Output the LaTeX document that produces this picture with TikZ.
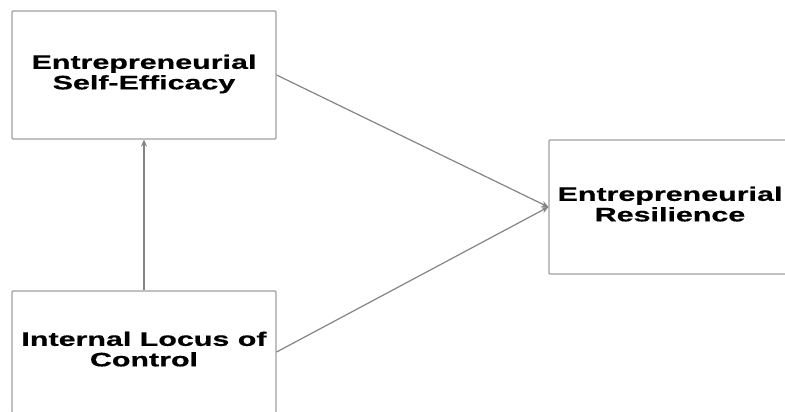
\documentclass[tikz,border=0pt]{standalone}
\usepackage{fontspec}
\setmainfont{Liberation Sans}
\newfontfamily\lblfont{Liberation Sans Bold}[FakeBold=0.5]
\usepackage{graphicx}
\usetikzlibrary{arrows.meta}
\definecolor{boxgray}{HTML}{A0A0A0}
\definecolor{arrgray}{HTML}{858585}
\newcommand{\lbl}[2]{\scalebox{1.56}[1]{\fontsize{19.5}{20.5}\lblfont\begin{tabular}{@{}c@{}}#1\\#2\end{tabular}}}
\begin{document}
\begin{tikzpicture}[x=1pt,y=-1pt,
  box/.style={draw=boxgray, line width=1.2pt, rectangle, rounded corners=1pt, inner sep=0pt, fill=white},
  conn/.style={draw=arrgray, line width=1.2pt, -{Stealth[length=7pt,width=6pt]}}]
\useasboundingbox[fill=white] (0,0) rectangle (785,412);
\node[box, minimum width=264pt, minimum height=128pt] (ese) at (144,75) {\lbl{Entrepreneurial}{Self-Efficacy}};
\node[box, minimum width=264pt, minimum height=122pt] (ilc) at (144,352) {\lbl{Internal Locus of}{Control}};
\node[box, minimum width=242pt, minimum height=134pt] (er) at (670,207) {\lbl{Entrepreneurial}{Resilience}};
\draw[conn] (ilc.north) -- (ese.south);
\draw[conn] (ese.east) -- (er.west);
\draw[conn] (ilc.east) -- (er.west);
\end{tikzpicture}
\end{document}
